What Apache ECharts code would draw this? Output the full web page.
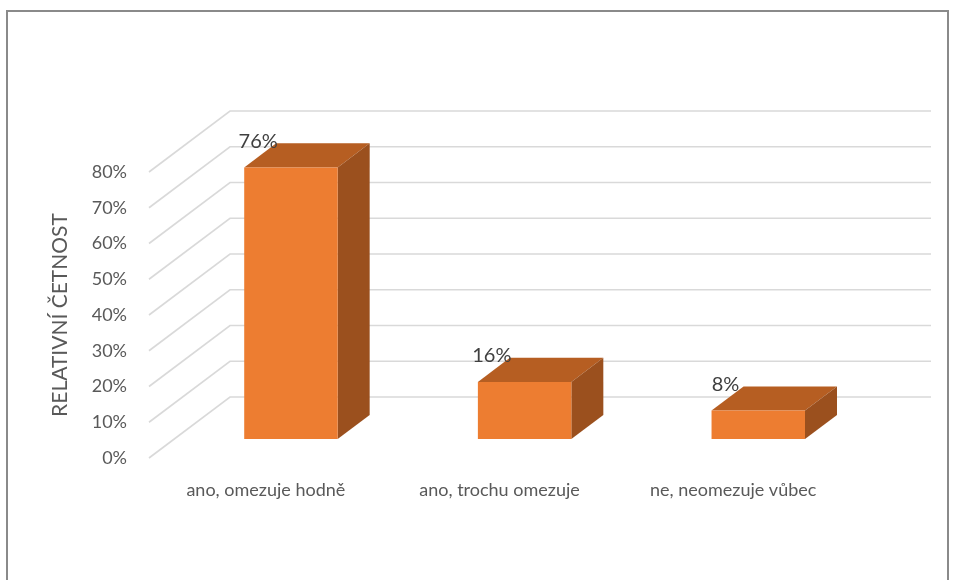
<!DOCTYPE html>
<html>
<head>
<meta charset="utf-8">
<script src="https://cdn.jsdelivr.net/npm/echarts@6/dist/echarts.min.js"></script>
<style>
html,body{margin:0;padding:0;background:#fff;}
#chart{width:955px;height:580px;}
</style>
</head>
<body>
<div id="chart"></div>
<script>
const categories = ['ano, omezuje hodně', 'ano, trochu omezuje', 'ne, neomezuje vůbec'];
const values = [0.76, 0.16, 0.08];
const valueLabels = ['76%', '16%', '8%'];
const yTicks = [0, 0.1, 0.2, 0.3, 0.4, 0.5, 0.6, 0.7, 0.8];
const yTickLabels = ['0%', '10%', '20%', '30%', '40%', '50%', '60%', '70%', '80%'];
const yTitle = 'RELATIVNÍ ČETNOST';

// oblique projection of the depth axis (full floor depth)
const DEPTH_X = 81, DEPTH_Y = -61;
const BAR_START = 0.31, BAR_DEPTH = 0.395, BAR_WIDTH = 0.4;
const FONT = 'Lato, "Open Sans", sans-serif';

const chart = echarts.init(document.getElementById('chart'), null, {renderer: 'canvas'});

const option = {
  backgroundColor: '#ffffff',
  animation: false,
  textStyle: {fontFamily: FONT},
  graphic: [{
    type: 'rect', silent: true, z: -10,
    shape: {x: 7, y: 11, width: 941, height: 620},
    style: {fill: 'none', stroke: '#8a8a8a', lineWidth: 2}
  }],
  grid: {left: 149, right: 105, top: 172, bottom: 122},
  xAxis: {
    type: 'category',
    data: categories,
    axisLine: {show: false},
    axisTick: {show: false},
    axisLabel: {color: '#595959', fontSize: 18, fontFamily: FONT, margin: 23, interval: 0}
  },
  yAxis: {
    type: 'value',
    min: 0, max: 0.8, interval: 0.1,
    axisLine: {show: false},
    axisTick: {show: false},
    splitLine: {show: false},
    axisLabel: {
      color: '#595959', fontSize: 18, fontFamily: FONT, margin: 22,
      formatter: function (v) {
        const i = yTicks.findIndex(t => Math.abs(t - v) < 1e-9);
        return i >= 0 ? yTickLabels[i] : '';
      }
    },
    name: yTitle,
    nameLocation: 'middle',
    nameRotate: 90,
    nameGap: 78,
    nameTextStyle: {color: '#595959', fontSize: 21, fontFamily: FONT}
  },
  series: [
    {
      type: 'custom',
      z: 1,
      silent: true,
      data: yTicks.map(v => [0, v]),
      renderItem: function (params, api) {
        const p = api.coord([0, api.value(1)]);
        const band = api.size([1, 0])[0];
        const left = p[0] - band / 2;
        return {
          type: 'polyline',
          shape: {points: [
            [left, p[1]],
            [left + DEPTH_X, p[1] + DEPTH_Y],
            [left + DEPTH_X + band * categories.length, p[1] + DEPTH_Y]
          ]},
          style: {stroke: '#d9d9d9', lineWidth: 1.6, fill: 'none'}
        };
      }
    },
    {
      type: 'custom',
      z: 5,
      data: values.map((v, i) => [i, v]),
      renderItem: function (params, api) {
        const i = api.value(0);
        const v = api.value(1);
        const base = api.coord([i, 0]);
        const top = api.coord([i, v]);
        const band = api.size([1, 0])[0];
        const w = band * BAR_WIDTH;
        const ox = DEPTH_X * BAR_START, oy = DEPTH_Y * BAR_START;
        const dx = DEPTH_X * BAR_DEPTH, dy = DEPTH_Y * BAR_DEPTH;
        const x0 = base[0] - w / 2 + ox;
        const x1 = x0 + w;
        const yb = base[1] + oy;
        const yt = top[1] + oy;
        return {
          type: 'group',
          children: [
            {type: 'polygon', shape: {points: [[x0, yt], [x1, yt], [x1 + dx, yt + dy], [x0 + dx, yt + dy]]},
             style: {fill: '#b65e22'}},
            {type: 'polygon', shape: {points: [[x1, yt], [x1 + dx, yt + dy], [x1 + dx, yb + dy], [x1, yb]]},
             style: {fill: '#9b501e'}},
            {type: 'rect', shape: {x: x0, y: yt, width: w, height: yb - yt},
             style: {fill: '#ed7d31'}},
            {type: 'text', z2: 10,
             style: {x: x0 + 14, y: yt + dy - 2, text: valueLabels[params.dataIndex],
                     fill: '#404040', fontSize: 20, fontFamily: FONT,
                     align: 'center', verticalAlign: 'middle'}}
          ]
        };
      }
    }
  ]
};
chart.setOption(option);
</script>
</body>
</html>
